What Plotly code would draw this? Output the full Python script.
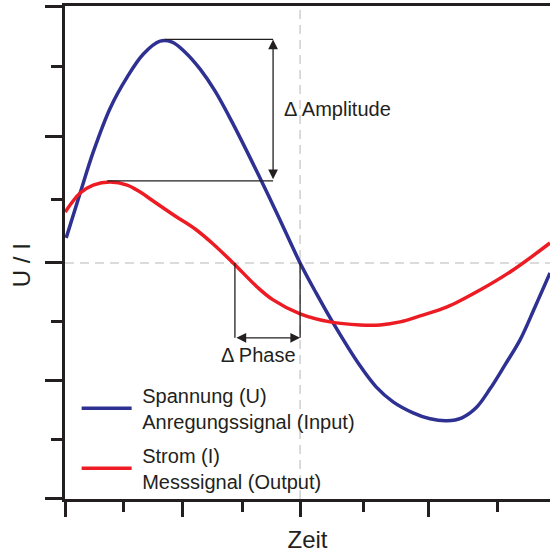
import plotly.graph_objects as go

# ---- data (time in arbitrary units, signal in arbitrary units) ----
t_u = [0.017, 0.255, 0.477, 0.766, 1.055, 1.328, 1.617, 1.821, 2.043, 2.298, 2.553,
       2.860, 3.268, 3.626, 4.0, 4.272, 4.562, 5.021, 5.294, 5.583, 5.923, 6.213,
       6.502, 6.757, 6.996, 7.234, 7.489, 7.745, 8.000, 8.255]
u_vals = [0.424, 1.186, 1.881, 2.627, 3.153, 3.542, 3.763, 3.746, 3.576, 3.288, 2.915,
          2.356, 1.542, 0.797, 0.0, -0.508, -1.017, -1.746, -2.102, -2.356, -2.542, -2.644,
          -2.678, -2.627, -2.458, -2.136, -1.729, -1.305, -0.746, -0.169]

t_i = [0.0, 0.255, 0.477, 0.766, 1.055, 1.277, 1.498, 1.872, 2.213, 2.519, 2.860,
       3.268, 3.540, 4.0, 4.511, 5.021, 5.362, 5.702, 6.043, 6.502, 7.064, 7.626, 8.255]
i_vals = [0.864, 1.186, 1.322, 1.373, 1.322, 1.203, 1.051, 0.797, 0.576, 0.322, 0.0,
          -0.407, -0.627, -0.864, -1.000, -1.051, -1.051, -1.0, -0.898, -0.746, -0.458,
          -0.119, 0.339]

x_major = [0.0, 1.991, 4.0, 6.179]
x_minor = [0.987, 3.013, 5.072, 7.353]
y_major = [-4.0, -2.0, 0.0, 2.153, 4.356]
y_minor = [-3.0, -1.0, 1.085, 3.339]

names = ["\u00a0Spannung (U)<br>\u00a0Anregungssignal (Input)",
         "\u00a0Strom (I)<br>\u00a0Messsignal (Output)"]
x_title = "Zeit"
y_title = "U / I"
amp_label = "Δ Amplitude"
phase_label = "Δ Phase"

# ---- derived annotation anchors ----
def peak(ts, vs):
    k = max(range(len(vs)), key=lambda j: vs[j])
    return ts[k], vs[k]

def first_down_zero(ts, vs):
    for j in range(len(vs) - 1):
        if vs[j] > 0 and vs[j + 1] <= 0:
            a, b = vs[j], vs[j + 1]
            return ts[j] + (ts[j + 1] - ts[j]) * a / (a - b)
    return None

tu_pk, u_pk = peak(t_u, u_vals)
ti_pk, i_pk = peak(t_i, i_vals)
tu_0 = first_down_zero(t_u, u_vals)
ti_0 = first_down_zero(t_i, i_vals)

DARK = "#231f20"
BLUE = "#2e3192"
RED = "#ed1c24"
GREY = "#cfcfcf"
FONT = "Liberation Sans, Arial, sans-serif"

amp_x = 3.54
phase_y = -1.27

fig = go.Figure()
fig.add_trace(go.Scatter(x=t_u, y=u_vals, mode="lines", name=names[0], legendgroup="u",
                         line=dict(color=BLUE, width=3.5, shape="spline", smoothing=1.0)))
fig.add_trace(go.Scatter(x=t_i, y=i_vals, mode="lines", name=names[1], legendgroup="i",
                         line=dict(color=RED, width=3.5, shape="spline", smoothing=1.0)))

shapes = [
    dict(type="line", xref="paper", x0=0, x1=1, yref="y", y0=0, y1=0,
         line=dict(color=GREY, width=1.5, dash="9px,6px"), layer="below"),
    dict(type="line", xref="x", x0=tu_0, x1=tu_0, yref="paper", y0=0, y1=1,
         line=dict(color=GREY, width=1.5, dash="9px,6px"), layer="below"),
    dict(type="line", x0=tu_pk + 0.08, x1=amp_x, y0=u_pk + 0.03, y1=u_pk + 0.03,
         line=dict(color=DARK, width=1.3)),
    dict(type="line", x0=ti_pk - 0.05, x1=amp_x, y0=i_pk + 0.02, y1=i_pk + 0.02,
         line=dict(color=DARK, width=1.3)),
    dict(type="line", x0=ti_0 + 0.03, x1=ti_0 + 0.03, y0=0, y1=phase_y,
         line=dict(color=DARK, width=1.3)),
    dict(type="line", x0=tu_0, x1=tu_0, y0=0, y1=phase_y, line=dict(color=DARK, width=1.3)),
]

annotations = [
    dict(x=amp_x, y=u_pk + 0.03, ax=amp_x, ay=i_pk + 0.02, xref="x", yref="y", axref="x",
         ayref="y", text="", showarrow=True, arrowhead=2, arrowside="end+start",
         arrowsize=1.5, arrowwidth=1.3, arrowcolor=DARK),
    dict(x=tu_0, y=phase_y, ax=ti_0 + 0.03, ay=phase_y, xref="x", yref="y", axref="x",
         ayref="y", text="", showarrow=True, arrowhead=2, arrowside="end+start",
         arrowsize=1.5, arrowwidth=1.3, arrowcolor=DARK),
    dict(x=3.694, y=2.61, xref="x", yref="y", text=amp_label, showarrow=False,
         xanchor="left", yanchor="middle", font=dict(size=20, color=DARK, family=FONT)),
    dict(x=3.30, y=-1.56, xref="x", yref="y", text=phase_label, showarrow=False,
         xanchor="center", yanchor="middle", font=dict(size=20, color=DARK, family=FONT)),
    dict(x=-0.088, y=0.475, xref="paper", yref="paper", text=y_title, showarrow=False,
         textangle=-90, xanchor="center", yanchor="middle",
         font=dict(size=24, color=DARK, family=FONT)),
]

fig.update_layout(
    width=550, height=553,
    margin=dict(l=65, r=0, t=6, b=54),
    paper_bgcolor="white", plot_bgcolor="white",
    font=dict(family=FONT, color=DARK),
    shapes=shapes, annotations=annotations,
    showlegend=True,
    legend=dict(x=0.024, y=0.250, xanchor="left", yanchor="top",
                bgcolor="rgba(0,0,0,0)", font=dict(size=20, color=DARK, family=FONT),
                itemwidth=50, tracegroupgap=5, valign="middle"),
)

fig.update_xaxes(range=[-0.003, 8.255], showgrid=False, zeroline=False,
                 showline=True, linecolor=DARK, linewidth=3, mirror=True,
                 tickmode="array", tickvals=x_major, ticks="outside", ticklen=15,
                 tickwidth=3, tickcolor=DARK, showticklabels=False,
                 minor=dict(tickvals=x_minor, ticks="outside", ticklen=10, tickwidth=3,
                            tickcolor=DARK, showgrid=False),
                 title=dict(text=x_title, font=dict(size=24, color=DARK, family=FONT), standoff=17))
fig.update_yaxes(range=[-4.005, 4.36], showgrid=False, zeroline=False,
                 showline=True, linecolor=DARK, linewidth=3,
                 tickmode="array", tickvals=y_major, ticks="outside", ticklen=17,
                 tickwidth=3, tickcolor=DARK, showticklabels=False,
                 minor=dict(tickvals=y_minor, ticks="outside", ticklen=11, tickwidth=3,
                            tickcolor=DARK, showgrid=False))

fig.write_html("out.html")
